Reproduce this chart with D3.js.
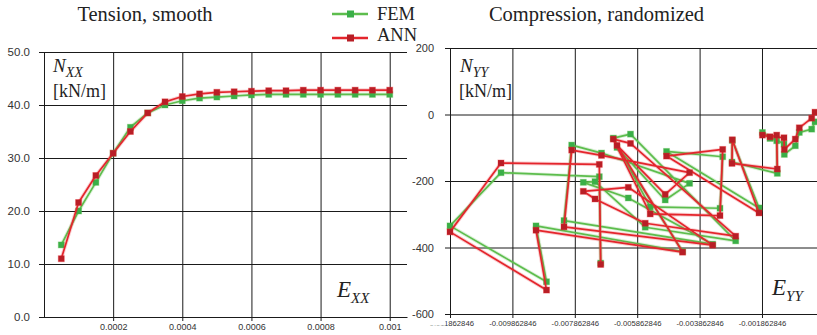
<!DOCTYPE html>
<html>
<head>
<meta charset="utf-8">
<script src="https://cdn.jsdelivr.net/npm/d3@7"></script>
<style>
  body { margin: 0; background: #fff; }
  svg { display: block; }
</style>
</head>
<body>
<svg id="chart" width="817" height="335"></svg>
<script>
// --- left panel: tension, smooth ---
const tensionStrain = [0.00005, 0.0001, 0.00015, 0.0002, 0.00025, 0.0003, 0.00035, 0.0004, 0.00045, 0.0005,
                       0.00055, 0.0006, 0.00065, 0.0007, 0.00075, 0.0008, 0.00085, 0.0009, 0.00095, 0.001];
const tensionFEM = [13.6, 20.0, 25.4, 30.9, 35.8, 38.5, 40.0, 40.8, 41.3, 41.5,
                    41.7, 41.9, 42.0, 42.0, 42.0, 42.0, 42.0, 42.0, 42.0, 42.0];
const tensionANN = [11.0, 21.6, 26.7, 30.9, 35.0, 38.5, 40.6, 41.6, 42.1, 42.4,
                    42.5, 42.6, 42.7, 42.7, 42.8, 42.8, 42.8, 42.8, 42.8, 42.8];
const tensionXTicks = [0.0002, 0.0004, 0.0006, 0.0008, 0.001];
const tensionYTicks = [0, 10, 20, 30, 40, 50];

// --- right panel: compression, randomized (points in load order) ---
const compStrain = [-0.0070327, -0.0070775, -0.0102282, -0.0118628, -0.0087699, -0.0091064, -0.0044077, -0.0065102,
                    -0.0049654, -0.0041834, -0.0070071, -0.0079622, -0.0082090, -0.0034430, -0.0061481, -0.0075904,
                    -0.0072154, -0.0056064, -0.0027057, -0.0060775, -0.0066288, -0.0054461, -0.0032090, -0.0031224,
                    -0.0049237, -0.0019590, -0.0028147, -0.0028247, -0.0013724, -0.0013916, -0.0016064, -0.0018500,
                    -0.0011577, -0.0011477, -0.0007955, -0.0006673, -0.0002699, -0.0001641];
const compFEM = [-447, -187, -175, -335, -503, -335, -412, -99,
                 -257, -207, -116, -92, -319, -390, -251, -204,
                 -202, -339, -380, -59, -71, -278, -282, -127,
                 -111, -281, -78, -143, -177, -79, -72, -54,
                 -89, -120, -94, -54, -44, -22];
const compANN = [-451, -150, -146, -353, -528, -348, -414, -93,
                 -240, -175, -123, -107, -338, -393, -219, -231,
                 -254, -327, -366, -87, -74, -299, -304, -105,
                 -125, -296, -76, -147, -164, -62, -67, -62,
                 -70, -105, -74, -40, -11, 7];
const compXTicks = [-0.011862846, -0.009862846, -0.007862846, -0.005862846, -0.003862846, -0.001862846];
const compYTicks = [-600, -400, -200, 0, 200];

const FEM_LINE = '#5dbd4d', FEM_MARK = '#3aaf48';
const ANN_LINE = '#e4252c', ANN_MARK = '#b81e26';
const SANS = '"Liberation Sans", Arial, sans-serif';
const SERIF = '"Liberation Serif", "Times New Roman", serif';

const svg = d3.select('#chart');

function styleAxis(g, size) {
  g.attr('font-family', SANS).attr('font-size', size);
  g.selectAll('text').attr('fill', '#333');
  g.selectAll('line').attr('stroke', '#1a1a1a');
  g.select('.domain').attr('stroke', '#1a1a1a');
}

function drawSeries(g, xs, ys, x, y, lineColor, markColor) {
  const pts = xs.map((v, i) => [v, ys[i]]);
  const line = d3.line().x(d => x(d[0])).y(d => y(d[1]));
  // soft halo like the scanned original
  g.append('path').datum(pts)
    .attr('d', line).attr('fill', 'none')
    .attr('stroke', lineColor).attr('stroke-width', 3.6).attr('stroke-opacity', 0.22)
    .attr('stroke-linejoin', 'round');
  g.append('path').datum(pts)
    .attr('d', line).attr('fill', 'none')
    .attr('stroke', lineColor).attr('stroke-width', 1.7)
    .attr('stroke-linejoin', 'round');
  g.selectAll(null).data(pts).enter().append('rect')
    .attr('x', d => x(d[0]) - 3).attr('y', d => y(d[1]) - 3)
    .attr('width', 6).attr('height', 6)
    .attr('fill', markColor)
    .attr('stroke', lineColor).attr('stroke-width', 1).attr('stroke-opacity', 0.35);
}

function grid(plotL, plotR, plotT, plotB, x, y, xTicks, yTicks) {
  const g = svg.append('g');
  g.append('g').attr('transform', `translate(0,${plotB})`)
    .call(d3.axisBottom(x).tickValues(xTicks).tickSize(-(plotB - plotT)).tickFormat(''))
    .call(a => a.select('.domain').remove())
    .call(a => a.selectAll('line').attr('stroke', '#1a1a1a'));
  g.append('g').attr('transform', `translate(${plotL},0)`)
    .call(d3.axisLeft(y).tickValues(yTicks).tickSize(-(plotR - plotL)).tickFormat(''))
    .call(a => a.select('.domain').remove())
    .call(a => a.selectAll('line').attr('stroke', '#1a1a1a'));
}

// ================= LEFT =================
const xL = d3.scaleLinear().domain([0, 0.00105]).range([44, 407]);
const yL = d3.scaleLinear().domain([0, 50]).range([317, 52]);

grid(44, 407, 52, 317, xL, yL, tensionXTicks, tensionYTicks);

svg.append('g').attr('transform', 'translate(0,317)')
  .call(d3.axisBottom(xL).tickValues(tensionXTicks).tickSize(4).tickSizeOuter(0).tickPadding(3)
    .tickFormat(d => String(d)))
  .call(g => styleAxis(g, 9));

svg.append('g').attr('transform', 'translate(44,0)')
  .call(d3.axisLeft(yL).tickValues(tensionYTicks).tickSize(5).tickSizeOuter(0).tickPadding(9)
    .tickFormat(d => d.toFixed(1)))
  .call(g => styleAxis(g, 11.5));

const gL = svg.append('g');
drawSeries(gL, tensionStrain, tensionFEM, xL, yL, FEM_LINE, FEM_MARK);
drawSeries(gL, tensionStrain, tensionANN, xL, yL, ANN_LINE, ANN_MARK);

// ================= RIGHT =================
const xR = d3.scaleLinear().domain([-0.011862846, -0.0001]).range([450, 817]);
const yR = d3.scaleLinear().domain([-600, 200]).range([314, 48]);

grid(450, 817, 48, 314, xR, yR, compXTicks, compYTicks);

const xAxisR = svg.append('g').attr('transform', 'translate(0,314)')
  .call(d3.axisBottom(xR).tickValues(compXTicks).tickSize(4).tickSizeOuter(0).tickPadding(3)
    .tickFormat(d => String(d)))
  .call(g => styleAxis(g, 7.7));

// first label is cut in the original: only its tail and a trace of the head show
const clip = svg.append('defs').append('clipPath').attr('id', 'firstLabelClip');
clip.append('rect').attr('x', -5).attr('y', -10).attr('width', 100).attr('height', 40);
clip.append('rect').attr('x', -100).attr('y', 11.5).attr('width', 200).attr('height', 20);
xAxisR.select('.tick text').attr('clip-path', 'url(#firstLabelClip)');

svg.append('g').attr('transform', 'translate(450,0)')
  .call(d3.axisLeft(yR).tickValues(compYTicks).tickSize(5).tickSizeOuter(0).tickPadding(11)
    .tickFormat(d => String(d)))
  .call(g => styleAxis(g, 11));

const gR = svg.append('g');
drawSeries(gR, compStrain, compFEM, xR, yR, FEM_LINE, FEM_MARK);
drawSeries(gR, compStrain, compANN, xR, yR, ANN_LINE, ANN_MARK);

// ================= TEXT =================
const txt = (x, y, s, size, opts = {}) => svg.append('text')
  .attr('x', x).attr('y', y).attr('font-family', SERIF).attr('font-size', size)
  .attr('fill', '#222').attr('text-anchor', opts.anchor || 'start')
  .attr('font-style', opts.italic ? 'italic' : 'normal').text(s);

txt(145, 21, 'Tension, smooth', 20.5, { anchor: 'middle' });
txt(596.5, 21, 'Compression, randomized', 20.5, { anchor: 'middle' });

// legend
[['FEM', FEM_LINE, FEM_MARK, 14, 19.5], ['ANN', ANN_LINE, ANN_MARK, 38, 41]].forEach(([name, lc, mc, ly, ty]) => {
  svg.append('line').attr('x1', 332).attr('x2', 368).attr('y1', ly).attr('y2', ly)
    .attr('stroke', lc).attr('stroke-width', 2.4);
  svg.append('rect').attr('x', 347).attr('y', ly - 3.5).attr('width', 7).attr('height', 7).attr('fill', mc);
  txt(377, ty, name, 18.5);
});

// axis captions inside the plots
function caption(x, y, main, sub, mainSize, subSize) {
  const t = svg.append('text').attr('x', x).attr('y', y)
    .attr('font-family', SERIF).attr('font-style', 'italic').attr('fill', '#222');
  t.append('tspan').attr('font-size', mainSize).text(main);
  t.append('tspan').attr('font-size', subSize).attr('dy', subSize * 0.38).text(sub);
}
caption(53, 72, 'N', 'XX', 19, 14);
txt(53, 97, '[kN/m]', 18);
caption(337, 297, 'E', 'XX', 23, 15);

caption(460, 72, 'N', 'YY', 19, 14);
txt(459, 97, '[kN/m]', 18);
caption(772, 295, 'E', 'YY', 23, 15);
</script>
</body>
</html>
